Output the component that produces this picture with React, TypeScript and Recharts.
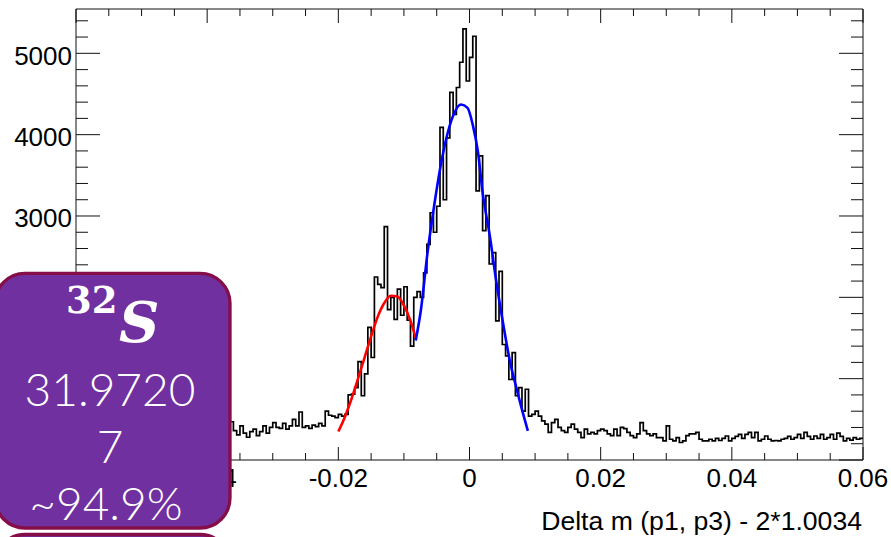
import React from 'react';
import { ComposedChart, Line, XAxis, YAxis, Label } from 'recharts';

// Histogram: 240 bins of width 0.0005 from -0.06 to 0.06
const binLow = -0.06;
const binWidth = 0.0005;
const counts = [
  330, 290, 310, 350, 300, 280, 340, 320, 300, 360, 310, 290, 330, 350, 300, 320, 370, 310, 290, 340,
  360, 320, 300, 350, 330, 310, 380, 340, 300, 330, 360, 320, 350, 310, 370, 340, 330, 300, 360, 380,
  340, 320, 370, 350, 330, 390, 360,
  470, 360, 310, 420, 330, 280, 350, 380, 300, 350, 420, 330, 400, 460, 400, 390, 450, 380, 420, 500,
  420, 590, 400, 420, 390, 430, 410, 450, 420, 600, 550, 540, 520,
  560, 540, 560, 800, 810, 890, 1210, 790, 1060, 1630, 1260, 2250, 2160, 2120, 2870, 1850, 2000, 1730,
  2100, 1780, 2130, 1720, 1400, 2000, 2070, 2000, 2300, 2650, 3040, 2800, 3120, 4090, 3200, 3960, 4520,
  4250, 4580, 4890, 5300, 4660, 4950, 5210, 3310, 3740, 2820, 3250, 2410, 2550, 1710, 2320, 1420, 1280,
  990, 1320, 790, 890, 600, 870, 540, 560,
  600, 540, 480, 440, 340, 460, 500, 400, 360, 340, 400, 440, 380, 340, 275, 380, 320, 340, 320, 360,
  380, 360, 320, 300, 380, 300, 400, 385, 340, 300, 275, 320, 460, 360, 320, 300, 320, 275, 275, 235,
  420, 255, 235, 275, 215, 235, 300, 320, 320,
  340, 255, 235, 235, 255, 235, 265, 240, 265, 295, 235, 265, 290, 315, 265, 315, 340, 275, 340, 235,
  255, 295, 255, 235, 240, 235, 255, 265, 290, 255, 275, 315, 265, 340, 290, 255, 295, 265, 315, 255,
  275, 315, 255, 330, 290, 235, 265, 245, 275, 255, 265,
];

// Fit curves
const redFitX = [-0.02, -0.019, -0.018, -0.017, -0.016, -0.015, -0.014, -0.013, -0.012, -0.011, -0.01, -0.009, -0.0082];
const redFitY = [350, 530, 750, 1000, 1260, 1520, 1760, 1930, 2020, 2010, 1900, 1710, 1500];
const blueFitX = [-0.0082, -0.0074, -0.0064, -0.0054, -0.0043, -0.0033, -0.0023, -0.0013, -0.0003, 0.0005, 0.0013, 0.002, 0.0031, 0.0041, 0.0051, 0.0061, 0.0072, 0.0082, 0.0089];
const blueFitY = [1470, 1850, 2550, 3120, 3660, 4030, 4270, 4370, 4330, 4120, 3780, 3290, 2755, 2185, 1690, 1240, 870, 560, 357];

const xTicks = [-0.06, -0.055, -0.05, -0.045, -0.04, -0.035, -0.03, -0.025, -0.02, -0.015, -0.01, -0.005, 0,
  0.005, 0.01, 0.015, 0.02, 0.025, 0.03, 0.035, 0.04, 0.045, 0.05, 0.055, 0.06];
const xMajorTicks = [-0.06, -0.04, -0.02, 0, 0.02, 0.04, 0.06];
// '-0.06' sits fully beneath the element card in the reference, so it is not shown
const xTickLabels = ['', '-0.04', '-0.02', '0', '0.02', '0.04', '0.06'];
const yTicks = [0, 200, 400, 600, 800, 1000, 1200, 1400, 1600, 1800, 2000, 2200, 2400, 2600, 2800, 3000,
  3200, 3400, 3600, 3800, 4000, 4200, 4400, 4600, 4800, 5000, 5200, 5400];
const yMajorTicks = [0, 1000, 2000, 3000, 4000, 5000];
// 0, 1000, 2000 are hidden beneath the element card in the reference
const yTickLabels = ['', '', '', '3000', '4000', '5000'];

const xTitle = 'Delta m (p1, p3) - 2*1.0034';
const boxMass = ['31.9720', '7', '~94.9%'];

const histData = counts.map((c, i) => ({ x: +(binLow + i * binWidth).toFixed(5), y: c }));
histData.push({ x: +(binLow + counts.length * binWidth).toFixed(5), y: counts[counts.length - 1] });
const redData = redFitX.map((x, i) => ({ x, y: redFitY[i] }));
const blueData = blueFitX.map((x, i) => ({ x, y: blueFitY[i] }));

const AXIS = '#111';
const FONT = '"Liberation Sans", Arial, Helvetica, sans-serif';
const XDOM: [number, number] = [-0.06, 0.06];
const YDOM: [number, number] = [0, 5545];

const majorIdx = (arr: number[], v: number) => arr.findIndex((t) => Math.abs(t - v) < 1e-9);

const BottomTick = (p: any) => {
  const idx = majorIdx(xMajorTicks, p.payload.value);
  const major = idx >= 0;
  return (
    <g>
      <line x1={p.x} y1={p.y} x2={p.x} y2={p.y - (major ? 13 : 7)} stroke={AXIS} strokeWidth={1} />
      {major && xTickLabels[idx] !== '' && (
        <text x={p.x} y={p.y + 27} textAnchor="middle" fontFamily={FONT} fontSize={26} fill="#000">
          {xTickLabels[idx]}
        </text>
      )}
    </g>
  );
};
const TopTick = (p: any) => {
  const major = majorIdx(xMajorTicks, p.payload.value) >= 0;
  return <line x1={p.x} y1={p.y} x2={p.x} y2={p.y + (major ? 14 : 7)} stroke={AXIS} strokeWidth={1} />;
};
const LeftTick = (p: any) => {
  const idx = majorIdx(yMajorTicks, p.payload.value);
  const major = idx >= 0;
  return (
    <g>
      <line x1={p.x} y1={p.y} x2={p.x + (major ? 24 : 12)} y2={p.y} stroke={AXIS} strokeWidth={1} />
      {major && yTickLabels[idx] !== '' && (
        <text x={p.x - 4} y={p.y + 11.5} textAnchor="end" fontFamily={FONT} fontSize={26} fill="#000">
          {yTickLabels[idx]}
        </text>
      )}
    </g>
  );
};
const RightTick = (p: any) => {
  const major = majorIdx(yMajorTicks, p.payload.value) >= 0;
  return <line x1={p.x} y1={p.y} x2={p.x - (major ? 24 : 12)} y2={p.y} stroke={AXIS} strokeWidth={1} />;
};

const XTitle = (props: any) => {
  const vb = props.viewBox || {};
  return (
    <text x={vb.x + vb.width - 1} y={vb.y + 70} textAnchor="end" fontFamily={FONT} fontSize={26.6} fill="#000">
      {xTitle}
    </text>
  );
};

export default function App() {
  return (
    <div style={{ position: 'absolute', left: 0, top: 0, width: 891, height: 537, overflow: 'hidden', background: '#fff' }}>
      <ComposedChart width={891} height={537} data={histData} margin={{ top: 8, right: 27, left: 0, bottom: 0 }}>
        <XAxis xAxisId="b" dataKey="x" type="number" domain={XDOM} allowDataOverflow ticks={xTicks} interval={0}
          height={77} tickLine={false} tickSize={0} tickMargin={0} tick={BottomTick} axisLine={{ stroke: AXIS, strokeWidth: 1 }}>
          <Label content={XTitle} />
        </XAxis>
        <XAxis xAxisId="t" orientation="top" dataKey="x" type="number" domain={XDOM} allowDataOverflow ticks={xTicks} interval={0}
          height={1} tickLine={false} tickSize={0} tickMargin={0} tick={TopTick} axisLine={{ stroke: AXIS, strokeWidth: 1 }} />
        <YAxis yAxisId="l" type="number" domain={YDOM} allowDataOverflow ticks={yTicks} interval={0}
          width={76} tickLine={false} tickSize={0} tickMargin={0} tick={LeftTick} axisLine={{ stroke: AXIS, strokeWidth: 1 }} />
        <YAxis yAxisId="r" orientation="right" type="number" domain={YDOM} allowDataOverflow ticks={yTicks} interval={0}
          width={1} tickLine={false} tickSize={0} tickMargin={0} tick={RightTick} axisLine={{ stroke: AXIS, strokeWidth: 1 }} />
        <Line xAxisId="t" yAxisId="r" dataKey="y" type="stepAfter" stroke="none" strokeWidth={0} legendType="none"
          dot={false} activeDot={false} isAnimationActive={false} />
        <Line xAxisId="b" yAxisId="l" dataKey="y" type="stepAfter" stroke="#000" strokeWidth={1.7}
          dot={false} activeDot={false} isAnimationActive={false} />
        <Line xAxisId="b" yAxisId="l" data={redData} dataKey="y" type="monotone" stroke="#ff0000" strokeWidth={2.6}
          dot={false} activeDot={false} isAnimationActive={false} />
        <Line xAxisId="b" yAxisId="l" data={blueData} dataKey="y" type="monotone" stroke="#0000ff" strokeWidth={2.6}
          dot={false} activeDot={false} isAnimationActive={false} />
      </ComposedChart>
      <svg width={891} height={537} style={{ position: 'absolute', left: 0, top: 0, pointerEvents: 'none' }}>
        <rect x={-5} y={273.3} width={235} height={254.7} rx={30} ry={30} fill="#7030A0" stroke="#850E48" strokeWidth={3.3} />
        <rect x={-5} y={534.5} width={235} height={254.7} rx={30} ry={30} fill="#7030A0" stroke="#850E48" strokeWidth={3.3} />
        <text x={66} y={313} fontFamily='"DejaVu Serif", serif' fontWeight="bold" fontSize={37} fill="#fff">32</text>
        <text x={119} y={342} fontFamily='"DejaVu Serif", serif' fontWeight="bold" fontStyle="italic" fontSize={56} fill="#fff">S</text>
        <text x={110} y={406} textAnchor="middle" fontFamily='Lato, "Open Sans", sans-serif' fontWeight={300} fontSize={46} fill="#fff">{boxMass[0]}</text>
        <text x={110} y={463} textAnchor="middle" fontFamily='Lato, "Open Sans", sans-serif' fontWeight={300} fontSize={46} fill="#fff">{boxMass[1]}</text>
        <text x={106} y={520} textAnchor="middle" fontFamily='Lato, "Open Sans", sans-serif' fontWeight={300} fontSize={46} fill="#fff">{boxMass[2]}</text>
      </svg>
    </div>
  );
}
